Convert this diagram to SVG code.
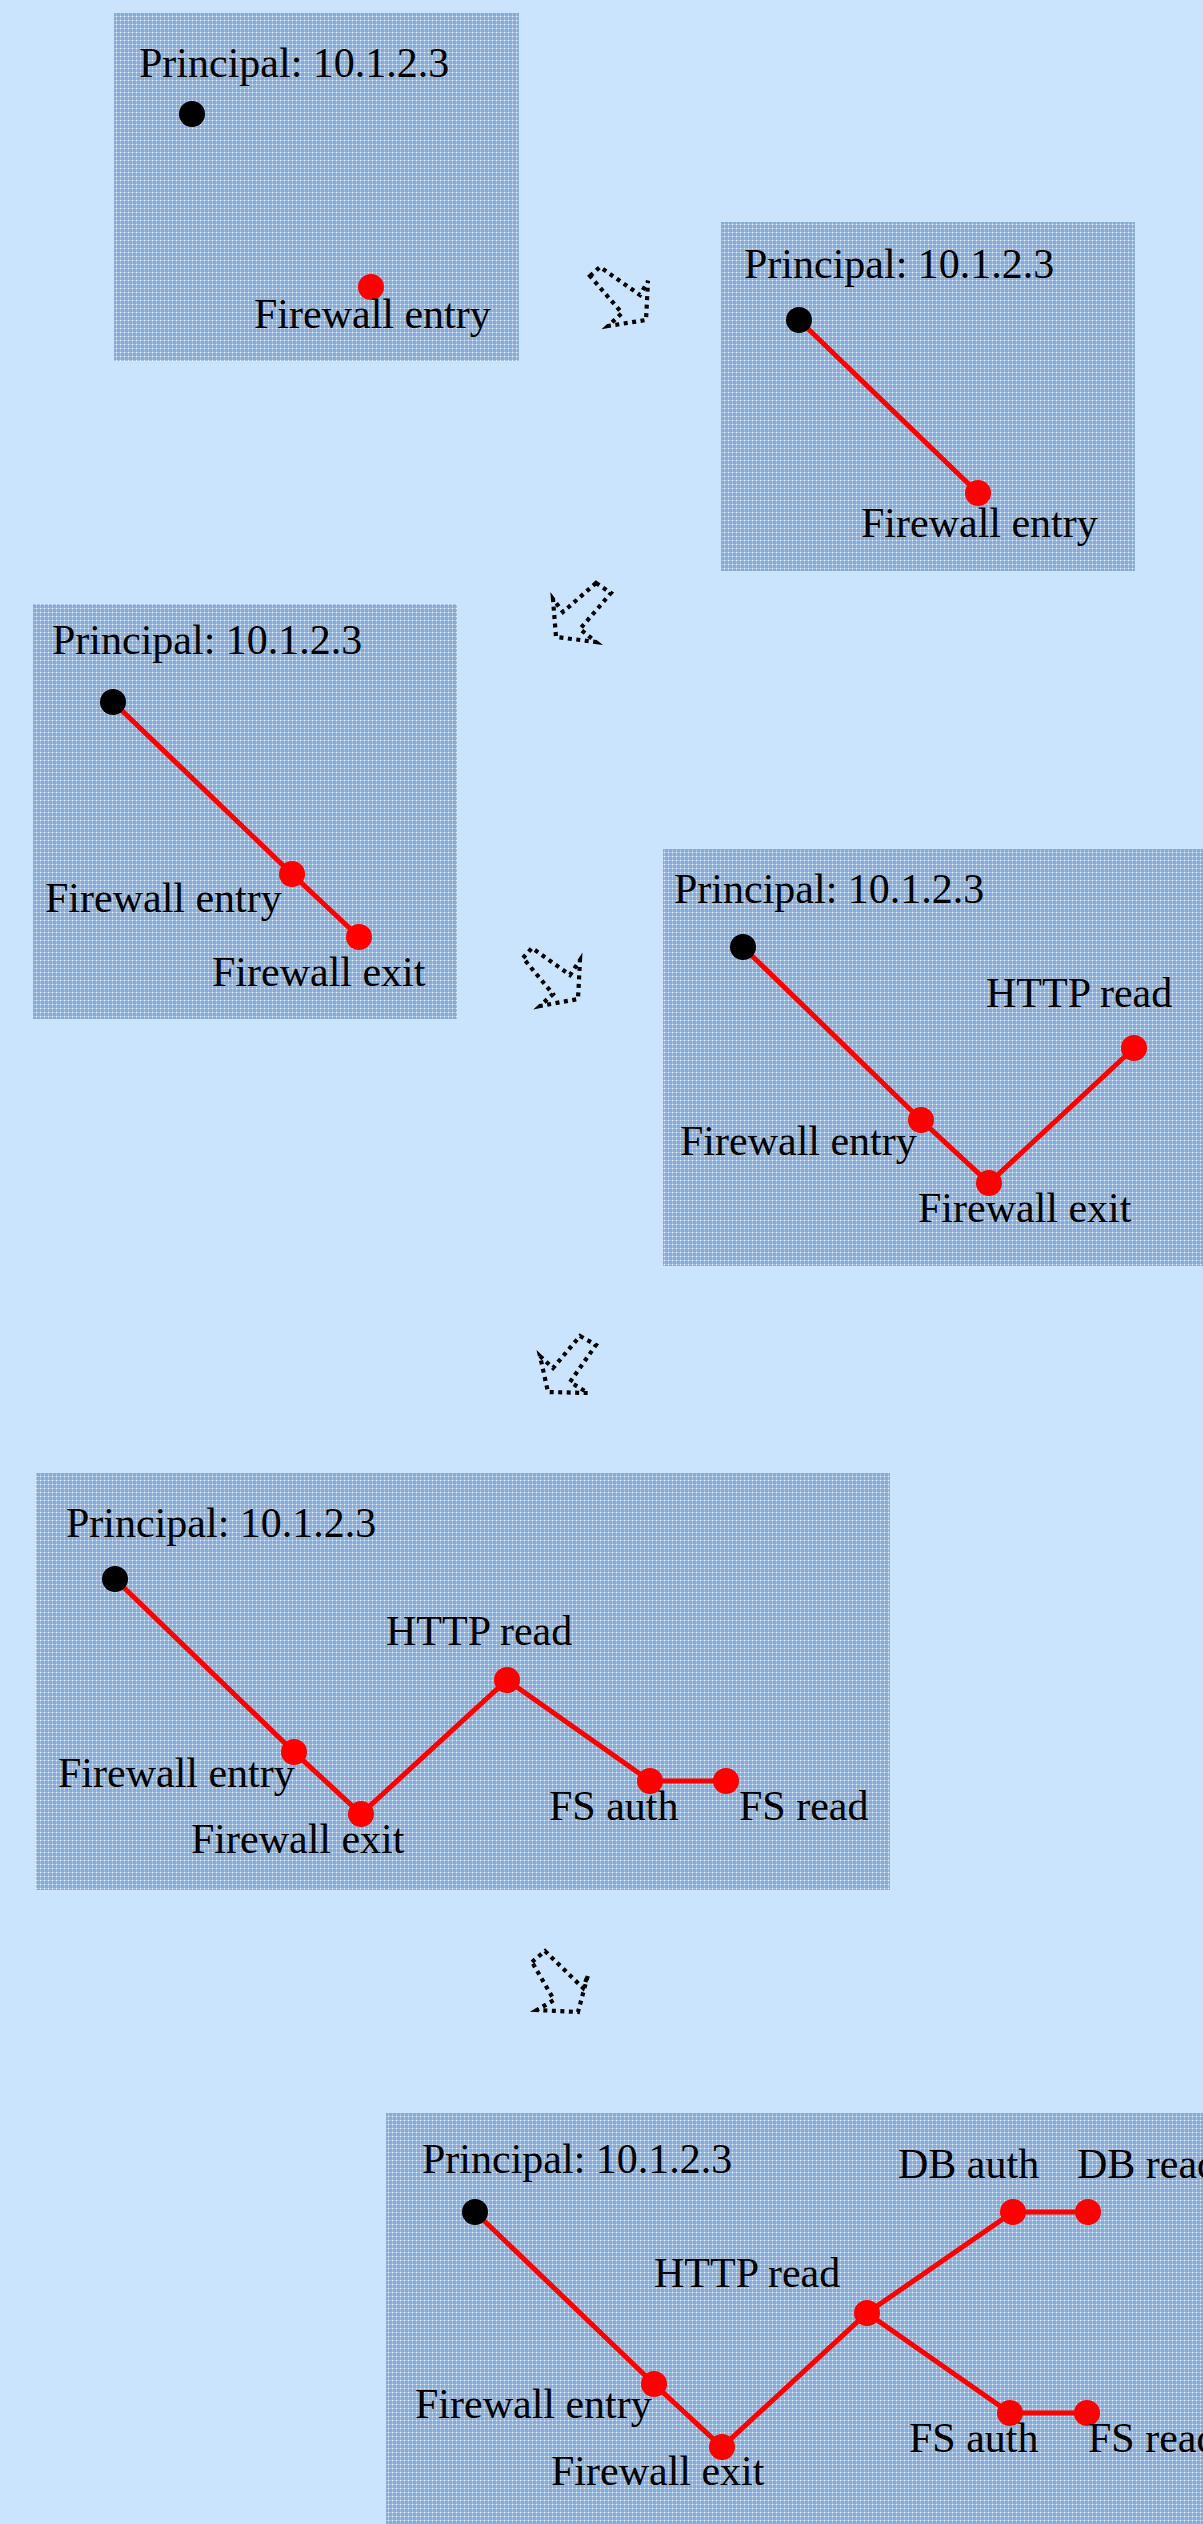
<svg xmlns="http://www.w3.org/2000/svg" width="1203" height="2524" viewBox="0 0 1203 2524">
<defs>
<pattern id="tex" width="4" height="4" patternUnits="userSpaceOnUse">
<rect width="4" height="4" fill="#86acd6"/>
<rect x="0" y="0" width="4" height="1" fill="#a2c1e4"/>
<rect x="0" y="0" width="1" height="4" fill="#a2c1e4"/>
<rect x="0" y="0" width="1" height="1" fill="#e8f1fb"/>
</pattern>
<style>
.bg{fill:#cbe4fd}
.panel{fill:url(#tex)}
.lbl{font-family:"Liberation Serif","Times New Roman",serif;font-size:42px;fill:#000}
.link{stroke:#ff0000;stroke-width:5;fill:none;stroke-linecap:round}
.start{fill:#000}
.ev{fill:#ff0000}
.step{fill:none;stroke:#000;stroke-width:4.2;stroke-dasharray:4 4.5;stroke-linejoin:miter}
</style>
</defs>
<rect class="bg" width="1203" height="2524"/>

<g id="step-arrows">
<polygon class="step" points="590,276 600,267 640,295 648,281 646,320 608,326 622,313"/>
<polygon class="step" points="596,583 611,593 580,629 596,642 556,637 553,599 563,612"/>
<polygon class="step" points="523,958 532,948 570,975 580,960 578,999 540,1006 553,994"/>
<polygon class="step" points="580,1336 596,1345 570,1382 588,1393 548,1392 540,1356 553,1368"/>
<polygon class="step" points="532,1962 545,1951 583,1988 588,1975 578,2012 537,2010 554,2000"/>
</g>

<g id="panel1">
<rect class="panel" x="114" y="13" width="405" height="348"/>
<g id="p1-principal"><text class="lbl" x="139" y="77">Principal: 10.1.2.3</text><circle class="start" cx="192" cy="114" r="13"/></g>
<g id="p1-fwentry"><circle class="ev" cx="371" cy="287" r="13"/><text class="lbl" x="254" y="328">Firewall entry</text></g>
</g>

<g id="panel2">
<rect class="panel" x="721" y="222" width="414" height="349"/>
<g id="p2-connectors"><polyline class="link" points="799,320 978,493"/></g>
<g id="p2-principal"><text class="lbl" x="744" y="278">Principal: 10.1.2.3</text><circle class="start" cx="799" cy="320" r="13"/></g>
<g id="p2-fwentry"><circle class="ev" cx="978" cy="493" r="13"/><text class="lbl" x="861" y="537">Firewall entry</text></g>
</g>

<g id="panel3">
<rect class="panel" x="33" y="604" width="424" height="415"/>
<g id="p3-connectors"><polyline class="link" points="113,702 292,874 359,937"/></g>
<g id="p3-principal"><text class="lbl" x="52" y="654">Principal: 10.1.2.3</text><circle class="start" cx="113" cy="702" r="13"/></g>
<g id="p3-fwentry"><circle class="ev" cx="292" cy="874" r="13"/><text class="lbl" x="45" y="912">Firewall entry</text></g>
<g id="p3-fwexit"><circle class="ev" cx="359" cy="937" r="13"/><text class="lbl" x="212" y="986">Firewall exit</text></g>
</g>

<g id="panel4">
<rect class="panel" x="663" y="849" width="545" height="417"/>
<g id="p4-connectors"><polyline class="link" points="743,947 921,1120 989,1183 1134,1048"/></g>
<g id="p4-principal"><text class="lbl" x="674" y="903">Principal: 10.1.2.3</text><circle class="start" cx="743" cy="947" r="13"/></g>
<g id="p4-fwentry"><circle class="ev" cx="921" cy="1120" r="13"/><text class="lbl" x="680" y="1155">Firewall entry</text></g>
<g id="p4-fwexit"><circle class="ev" cx="989" cy="1183" r="13"/><text class="lbl" x="918" y="1222">Firewall exit</text></g>
<g id="p4-http"><circle class="ev" cx="1134" cy="1048" r="13"/><text class="lbl" x="986" y="1007">HTTP read</text></g>
</g>

<g id="panel5">
<rect class="panel" x="36" y="1473" width="854" height="417"/>
<g id="p5-connectors"><polyline class="link" points="115,1579 294,1752 361,1814 507,1680 650,1781 726,1781"/></g>
<g id="p5-principal"><text class="lbl" x="66" y="1537">Principal: 10.1.2.3</text><circle class="start" cx="115" cy="1579" r="13"/></g>
<g id="p5-fwentry"><circle class="ev" cx="294" cy="1752" r="13"/><text class="lbl" x="58" y="1787">Firewall entry</text></g>
<g id="p5-fwexit"><circle class="ev" cx="361" cy="1814" r="13"/><text class="lbl" x="191" y="1853">Firewall exit</text></g>
<g id="p5-http"><circle class="ev" cx="507" cy="1680" r="13"/><text class="lbl" x="386" y="1645">HTTP read</text></g>
<g id="p5-fsauth"><circle class="ev" cx="650" cy="1781" r="13"/><text class="lbl" x="549" y="1820">FS auth</text></g>
<g id="p5-fsread"><circle class="ev" cx="726" cy="1781" r="13"/><text class="lbl" x="739" y="1820">FS read</text></g>
</g>

<g id="panel6">
<rect class="panel" x="386" y="2113" width="822" height="416"/>
<g id="p6-connectors">
<polyline class="link" points="475,2212 654,2384 722,2447 867,2313 1013,2212 1088,2212"/>
<polyline class="link" points="867,2313 1010,2413 1087,2413"/>
</g>
<g id="p6-principal"><text class="lbl" x="422" y="2173">Principal: 10.1.2.3</text><circle class="start" cx="475" cy="2212" r="13"/></g>
<g id="p6-fwentry"><circle class="ev" cx="654" cy="2384" r="13"/><text class="lbl" x="415" y="2418">Firewall entry</text></g>
<g id="p6-fwexit"><circle class="ev" cx="722" cy="2447" r="13"/><text class="lbl" x="551" y="2485">Firewall exit</text></g>
<g id="p6-http"><circle class="ev" cx="867" cy="2313" r="13"/><text class="lbl" x="654" y="2287">HTTP read</text></g>
<g id="p6-dbauth"><circle class="ev" cx="1013" cy="2212" r="13"/><text class="lbl" x="898" y="2178">DB auth</text></g>
<g id="p6-dbread"><circle class="ev" cx="1088" cy="2212" r="13"/><text class="lbl" x="1077" y="2178">DB read</text></g>
<g id="p6-fsauth"><circle class="ev" cx="1010" cy="2413" r="13"/><text class="lbl" x="909" y="2452">FS auth</text></g>
<g id="p6-fsread"><circle class="ev" cx="1087" cy="2413" r="13"/><text class="lbl" x="1088" y="2452">FS read</text></g>
</g>
</svg>
